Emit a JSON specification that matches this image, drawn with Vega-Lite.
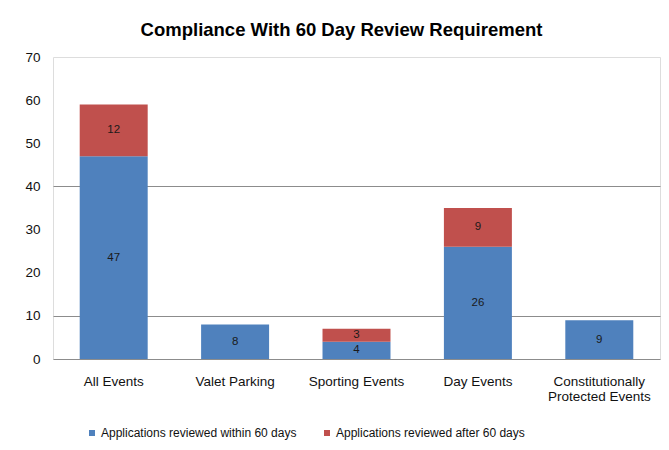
{
  "$schema": "https://vega.github.io/schema/vega-lite/v6.json",
  "width": 607,
  "height": 302,
  "autosize": "none",
  "padding": {"left": 53, "top": 57, "right": 9, "bottom": 91},
  "background": "white",
  "title": {
    "text": "Compliance With 60 Day Review Requirement",
    "font": "Liberation Sans",
    "fontSize": 18.5,
    "fontWeight": "bold",
    "color": "#000000",
    "anchor": "middle",
    "dx": -15,
    "offset": 11
  },
  "data": {
    "values": [
      {"category": "All Events", "series": "Applications reviewed within 60 days", "order": 1, "value": 47},
      {"category": "All Events", "series": "Applications reviewed after 60 days", "order": 2, "value": 12},
      {"category": "Valet Parking", "series": "Applications reviewed within 60 days", "order": 1, "value": 8},
      {"category": "Sporting Events", "series": "Applications reviewed within 60 days", "order": 1, "value": 4},
      {"category": "Sporting Events", "series": "Applications reviewed after 60 days", "order": 2, "value": 3},
      {"category": "Day Events", "series": "Applications reviewed within 60 days", "order": 1, "value": 26},
      {"category": "Day Events", "series": "Applications reviewed after 60 days", "order": 2, "value": 9},
      {"category": "Constitutionally Protected Events", "series": "Applications reviewed within 60 days", "order": 1, "value": 9}
    ]
  },
  "transform": [
    {"stack": "value", "groupby": ["category"], "sort": [{"field": "order", "order": "ascending"}], "as": ["v0", "v1"]}
  ],
  "encoding": {
    "x": {
      "field": "category",
      "type": "nominal",
      "sort": ["All Events", "Valet Parking", "Sporting Events", "Day Events", "Constitutionally Protected Events"],
      "scale": {"paddingInner": 0.44, "paddingOuter": 0.22},
      "axis": {
        "title": null,
        "labelAngle": 0,
        "labelPadding": 15,
        "ticks": false,
        "domain": false,
        "labelFont": "Liberation Sans",
        "labelFontSize": 13.5,
        "labelColor": "#111111",
        "labelLineHeight": 15,
        "labelLimit": 0,
        "labelExpr": "datum.value == 'Constitutionally Protected Events' ? ['Constitutionally', 'Protected Events'] : datum.value"
      }
    }
  },
  "layer": [
    {
      "mark": {"type": "bar"},
      "encoding": {
        "y": {
          "field": "v0",
          "type": "quantitative",
          "scale": {"domain": [0, 70]},
          "axis": {
            "title": null,
            "values": [0, 10, 20, 30, 40, 50, 60, 70],
            "ticks": false,
            "domain": false,
            "labelPadding": 13,
            "labelFont": "Liberation Sans",
            "labelFontSize": 13.5,
            "labelColor": "#111111",
            "grid": true,
            "gridColor": "#8c8c8c",
            "gridWidth": 1,
            "gridOpacity": {"condition": {"test": "datum.value == 0 || datum.value == 10 || datum.value == 40", "value": 1}, "value": 0}
          }
        },
        "y2": {"field": "v1"},
        "color": {
          "field": "series",
          "type": "nominal",
          "scale": {
            "domain": ["Applications reviewed within 60 days", "Applications reviewed after 60 days"],
            "range": ["#4F81BD", "#C0504D"]
          },
          "legend": {
            "title": null,
            "orient": "none",
            "legendX": 33,
            "legendY": 370,
            "direction": "horizontal",
            "symbolType": "square",
            "symbolSize": 36,
            "symbolStrokeWidth": 0,
            "labelFont": "Liberation Sans",
            "labelFontSize": 12,
            "labelColor": "#111111",
            "labelOffset": 3,
            "labelLimit": 0,
            "columnPadding": 24
          }
        }
      }
    },
    {
      "transform": [
        {"fold": ["v0", "v1"], "as": ["edge", "pos"]},
        {"aggregate": [{"op": "mean", "field": "pos", "as": "mid"}], "groupby": ["category", "series", "value"]}
      ],
      "mark": {"type": "text", "font": "Liberation Sans", "fontSize": 11.5, "color": "#1a1a1a", "baseline": "middle"},
      "encoding": {
        "y": {"field": "mid", "type": "quantitative"},
        "text": {"field": "value", "type": "quantitative"}
      }
    }
  ]
}
